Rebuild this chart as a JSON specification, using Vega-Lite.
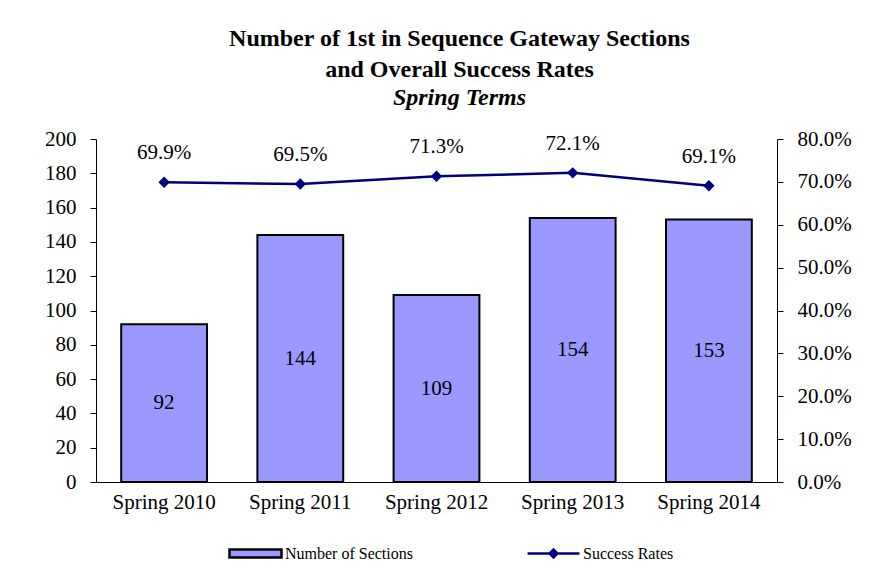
{
  "$schema": "https://vega.github.io/schema/vega-lite/v6.json",
  "width": 681,
  "height": 343,
  "autosize": {"type": "none"},
  "padding": {"left": 96, "top": 139, "right": 104, "bottom": 97},
  "background": "white",
  "config": {
    "font": "Liberation Serif",
    "view": {"stroke": null},
    "axis": {"labelFont": "Liberation Serif", "labelColor": "black", "domainColor": "black", "tickColor": "black", "grid": false, "title": null},
    "legend": {"labelFont": "Liberation Serif", "labelFontSize": 16, "labelColor": "black"}
  },
  "title": {
    "text": ["Number of 1st in Sequence Gateway Sections", "and Overall Success Rates"],
    "subtitle": "Spring Terms",
    "font": "Liberation Serif",
    "fontSize": 24,
    "fontWeight": "bold",
    "lineHeight": 31,
    "color": "black",
    "subtitleFont": "Liberation Serif",
    "subtitleFontSize": 24,
    "subtitleFontWeight": "bold",
    "subtitleFontStyle": "italic",
    "subtitleColor": "black",
    "subtitlePadding": 4,
    "anchor": "middle",
    "dx": 23,
    "offset": 18
  },
  "data": {
    "values": [
      {"term": "Spring 2010", "sections": 92, "rate": 0.699},
      {"term": "Spring 2011", "sections": 144, "rate": 0.695},
      {"term": "Spring 2012", "sections": 109, "rate": 0.713},
      {"term": "Spring 2013", "sections": 154, "rate": 0.721},
      {"term": "Spring 2014", "sections": 153, "rate": 0.691}
    ]
  },
  "encoding": {
    "x": {
      "field": "term",
      "type": "nominal",
      "sort": null,
      "scale": {"paddingInner": 0.37, "paddingOuter": 0.185},
      "axis": {"labelAngle": 0, "labelFontSize": 21, "ticks": false, "labelPadding": 9, "domainWidth": 1}
    }
  },
  "layer": [
    {
      "mark": {"type": "bar", "color": "#9999FF", "stroke": "black", "strokeWidth": 2},
      "encoding": {
        "y": {
          "field": "sections",
          "type": "quantitative",
          "scale": {"domain": [0, 200], "nice": false},
          "axis": {"orient": "left", "values": [0, 20, 40, 60, 80, 100, 120, 140, 160, 180, 200], "labelFontSize": 21, "tickSize": 6, "labelPadding": 14}
        },
        "fill": {
          "datum": "Number of Sections",
          "type": "nominal",
          "scale": {"range": ["#9999FF"]},
          "legend": {"orient": "none", "legendX": 132, "legendY": 387, "title": null, "symbolType": "M-1,-0.15H1V0.15H-1Z", "symbolSize": 2704, "symbolStrokeColor": "black", "symbolStrokeWidth": 2.5, "labelOffset": 2}
        }
      }
    },
    {
      "mark": {"type": "text", "fontSize": 21, "color": "black", "baseline": "middle"},
      "encoding": {
        "y": {"field": "sections", "type": "quantitative", "scale": {"domain": [0, 400], "nice": false}, "axis": null},
        "text": {"field": "sections", "type": "quantitative"}
      }
    },
    {
      "mark": {"type": "line", "color": "#000080", "strokeWidth": 2.5},
      "encoding": {
        "y": {
          "field": "rate",
          "type": "quantitative",
          "scale": {"domain": [0, 0.8], "nice": false},
          "axis": {"orient": "right", "format": ".1%", "values": [0, 0.1, 0.2, 0.3, 0.4, 0.5, 0.6, 0.7, 0.8], "labelFontSize": 21, "tickSize": 6, "labelPadding": 14}
        },
        "stroke": {
          "datum": "Success Rates",
          "type": "nominal",
          "scale": {"range": ["#000080"]},
          "legend": {"orient": "none", "legendX": 430, "legendY": 387, "title": null, "symbolType": "M-1,0H1M-0.15,0L0,-0.15L0.15,0L0,0.15Z", "symbolSize": 2704, "symbolFillColor": "#000080", "symbolStrokeWidth": 2.5, "labelOffset": 2}
        }
      }
    },
    {
      "mark": {"type": "point", "shape": "diamond", "filled": true, "color": "#000080", "size": 130, "opacity": 1},
      "encoding": {
        "y": {"field": "rate", "type": "quantitative", "scale": {"domain": [0, 0.8], "nice": false}, "axis": null}
      }
    },
    {
      "mark": {"type": "text", "fontSize": 21, "color": "black", "dy": -29, "baseline": "middle"},
      "encoding": {
        "y": {"field": "rate", "type": "quantitative", "scale": {"domain": [0, 0.8], "nice": false}, "axis": null},
        "text": {"field": "rate", "type": "quantitative", "format": ".1%"}
      }
    }
  ],
  "resolve": {"scale": {"y": "independent", "fill": "independent", "stroke": "independent"}}
}
